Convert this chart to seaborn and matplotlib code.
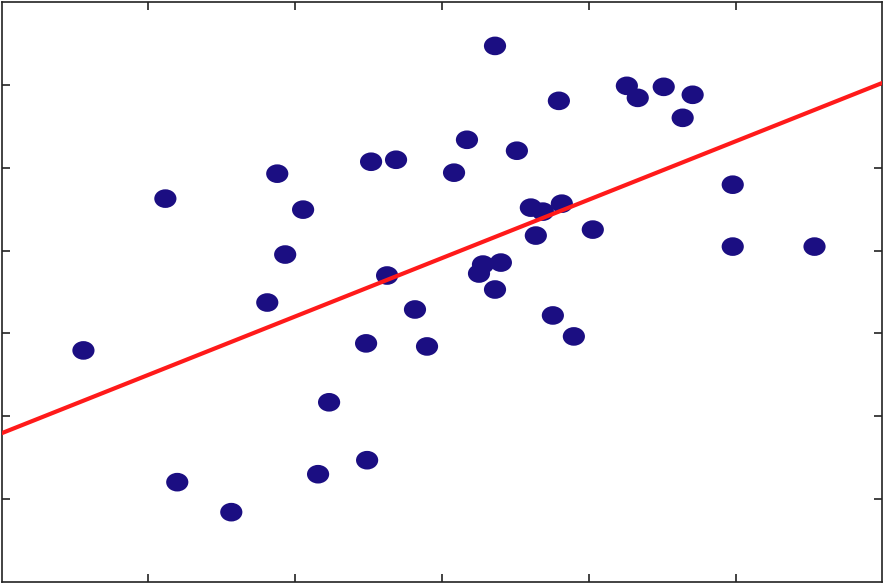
import numpy as np
import pandas as pd
import matplotlib
matplotlib.use("Agg")
import matplotlib.pyplot as plt
import seaborn as sns
from matplotlib.path import Path
from matplotlib.transforms import Affine2D

# Data (axis 0..6 x 0..7)
x_vals = [0.558, 1.116, 1.197, 1.565, 1.810, 1.878, 1.932, 2.054, 2.156, 2.231,
          2.483, 2.490, 2.517, 2.626, 2.687, 2.816, 2.898, 3.082, 3.170, 3.252,
          3.279, 3.361, 3.361, 3.401, 3.510, 3.605, 3.639, 3.687, 3.755, 3.796,
          3.816, 3.898, 4.027, 4.259, 4.333, 4.510, 4.639, 4.707, 4.980, 4.980,
          5.537]
y_vals = [2.795, 4.627, 1.205, 0.843, 3.373, 4.928, 3.952, 4.494, 1.301, 2.169,
          2.880, 1.470, 5.072, 3.699, 5.096, 3.289, 2.843, 4.940, 5.337, 3.723,
          3.831, 3.530, 6.470, 3.855, 5.205, 4.518, 4.181, 4.470, 3.217, 5.807,
          4.566, 2.964, 4.253, 5.988, 5.843, 5.976, 5.602, 5.880, 4.795, 4.048,
          4.048]

# Fitted trend line (as drawn in the picture)
line_x = [0.0, 6.0]
line_y = [1.795, 6.024]

df = pd.DataFrame({"x": x_vals, "y": y_vals})
df_line = pd.DataFrame({"x": line_x, "y": line_y})

sns.set_theme(style="white")

fig = plt.figure(figsize=(8.84, 5.84), dpi=100)
ax = fig.add_axes([0.0017, 0.0034, 0.9966, 0.9932])

ellipse = Path.unit_circle().transformed(Affine2D().scale(1.0, 0.84))

sns.scatterplot(data=df, x="x", y="y", ax=ax, marker=ellipse, s=255,
                color="#1b0e82", edgecolor="none", linewidth=0, zorder=2)
sns.lineplot(data=df_line, x="x", y="y", ax=ax, color="#ff1a1a",
             linewidth=3.0, zorder=3)

ax.set_xlim(0, 6)
ax.set_ylim(0, 7)
ax.set_xticks([1, 2, 3, 4, 5])
ax.set_yticks([1, 2, 3, 4, 5, 6])
ax.tick_params(direction="in", length=6, width=1.2, color="#222222",
               top=True, right=True, bottom=True, left=True,
               labelbottom=False, labelleft=False)
ax.set_xlabel("")
ax.set_ylabel("")
for sp in ax.spines.values():
    sp.set_visible(True)
    sp.set_color("#222222")
    sp.set_linewidth(1.2)

fig.savefig("out.png", dpi=100)
